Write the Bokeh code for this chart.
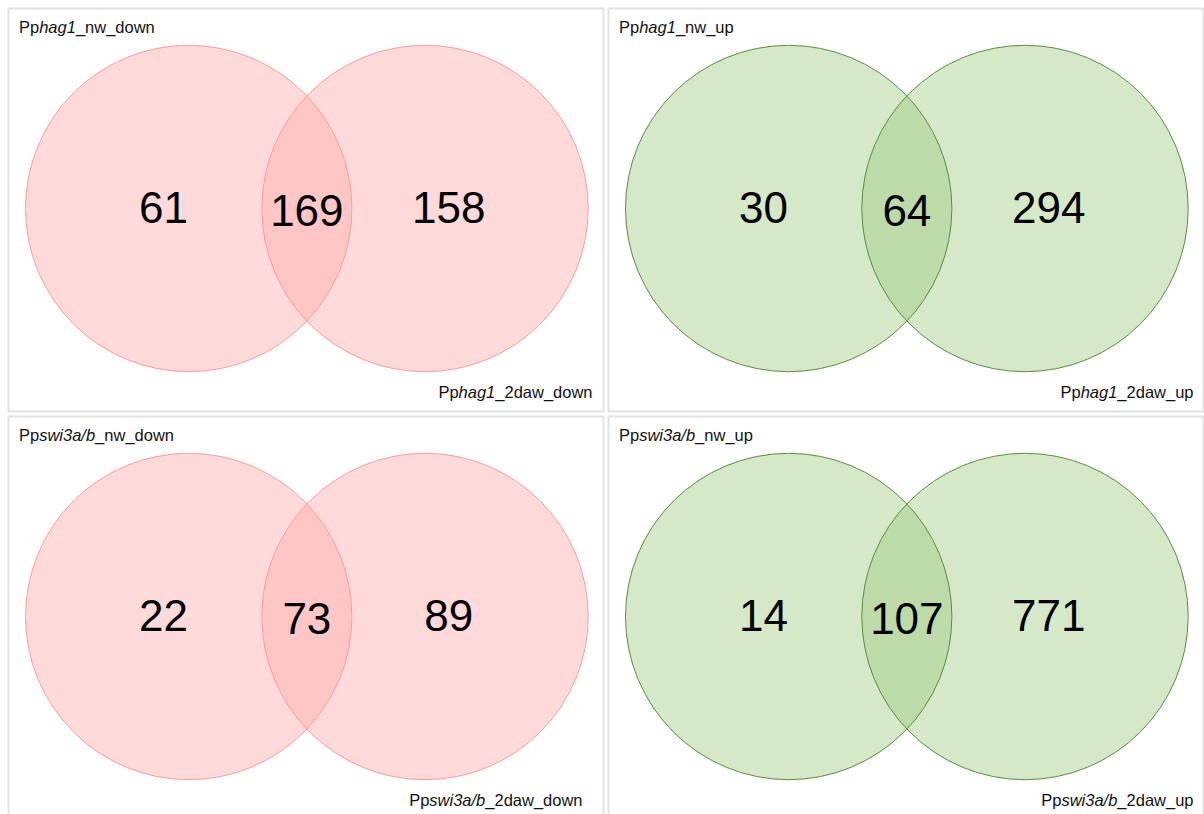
import numpy as np
from bokeh.plotting import figure
from bokeh.models import Range1d, ColumnDataSource
from bokeh.core.properties import value
from bokeh.embed import file_html
from bokeh.resources import INLINE

# ---- data -------------------------------------------------------------
prefixes = ["Pp", "Pp", "Pp", "Pp"]
genes = ["hag1", "hag1", "swi3a/b", "swi3a/b"]
first_sets = ["_nw_down", "_nw_up", "_nw_down", "_nw_up"]
second_sets = ["_2daw_down", "_2daw_up", "_2daw_down", "_2daw_up"]
only_first = [61, 30, 22, 14]
shared = [169, 64, 73, 107]
only_second = [158, 294, 89, 771]
directions = ["down", "up", "down", "up"]

# ---- styling / layout -------------------------------------------------
W, H = 1204, 814
FONT = "Liberation Sans"
styles = {
    "down": dict(fill="#ffdada", lens="#ffc6c6", line="#ff9a9a"),
    "up": dict(fill="#d5e8c8", lens="#bddba8", line="#5b8c3e"),
}
# panel frames (left, top) in pixels
panel_left = [8, 608, 8, 608]
panel_top = [8, 8, 416, 416]
panel_w, panel_h = 595, 403
label_right = [592, 1193, 582, 1193]

R = 163.2            # circle radius
C1_DX = 180.2        # left circle centre, from panel left
SEP = 236.3          # distance between circle centres
CY_DY = 200.0        # circle centre, from panel top

# Liberation Sans advance widths (per 1000 em)
ADV = {"P": 667, "p": 556, "h": 556, "a": 556, "g": 556, "1": 556, "s": 500,
       "w": 722, "i": 222, "3": 556, "/": 278, "b": 556, "_": 556, "n": 556,
       "d": 556, "o": 556, "u": 556, "2": 556}
LABEL_PX = 16.5


def text_width(s, px=LABEL_PX):
    return sum(ADV.get(c, 556) for c in s) * px / 1000.0


p = figure(width=W, height=H, x_range=Range1d(0, W), y_range=Range1d(H, 0),
           output_backend="svg", toolbar_location=None, min_border=0,
           x_axis_location=None, y_axis_location=None)
p.grid.visible = False
p.outline_line_color = None
p.background_fill_color = "white"
p.border_fill_color = "white"

# panel frames
p.quad(left=panel_left, right=[l + panel_w for l in panel_left],
       top=panel_top, bottom=[t + panel_h for t in panel_top],
       fill_color=None, line_color="#e2e2e2", line_width=2)

cx1, cx2, cys, fills, lenses, lines = [], [], [], [], [], []
for i in range(4):
    st = styles[directions[i]]
    cx1.append(panel_left[i] + C1_DX)
    cx2.append(panel_left[i] + C1_DX + SEP)
    cys.append(panel_top[i] + CY_DY)
    fills.append(st["fill"])
    lenses.append(st["lens"])
    lines.append(st["line"])

# circle fills
p.circle(x=cx1 + cx2, y=cys + cys, radius=R, fill_color=fills + fills,
         line_color=None)

# intersection lens
a = np.arccos(SEP / (2 * R))
t1 = np.linspace(-a, a, 80)
t2 = np.linspace(np.pi - a, np.pi + a, 80)
lens_xs, lens_ys = [], []
for i in range(4):
    xs = np.concatenate([cx1[i] + R * np.cos(t1), cx2[i] + R * np.cos(t2)])
    ys = np.concatenate([cys[i] + R * np.sin(t1), cys[i] + R * np.sin(t2)])
    lens_xs.append(list(xs))
    lens_ys.append(list(ys))
p.patches(xs=lens_xs, ys=lens_ys, fill_color=lenses, line_color=None)

# circle outlines
p.circle(x=cx1 + cx2, y=cys + cys, radius=R, fill_color=None,
         line_color=lines + lines, line_width=1)

# counts
num_src = ColumnDataSource(dict(
    x=[c - 0.155 * R for c in cx1] + [(a_ + b_) / 2 for a_, b_ in zip(cx1, cx2)]
      + [c + 0.145 * R for c in cx2],
    y=[c - 1 for c in cys] + [c + 2 for c in cys] + [c - 1 for c in cys],
    t=[str(v) for v in only_first] + [str(v) for v in shared]
      + [str(v) for v in only_second],
))
p.text(x="x", y="y", text="t", source=num_src, text_font=value(FONT),
       text_font_size="44px", text_align="center", text_baseline="middle",
       text_color="black")

# set names: prefix upright, gene name italic, suffix upright
seg_x, seg_y, seg_t, seg_style = [], [], [], []
for i in range(4):
    for parts, x0, y0 in (
        ((prefixes[i], genes[i], first_sets[i]), panel_left[i] + 10.5,
         panel_top[i] + 18.2),
        ((prefixes[i], genes[i], second_sets[i]),
         label_right[i] - text_width(prefixes[i] + genes[i] + second_sets[i]),
         panel_top[i] + 383.2),
    ):
        x = x0
        for k, s in enumerate(parts):
            seg_x.append(x)
            seg_y.append(y0)
            seg_t.append(s)
            seg_style.append("italic" if k == 1 else "normal")
            x += text_width(s)

lab_src = ColumnDataSource(dict(x=seg_x, y=seg_y, t=seg_t, st=seg_style))
p.text(x="x", y="y", text="t", source=lab_src, text_font=value(FONT),
       text_font_size=f"{LABEL_PX}px", text_font_style="st",
       text_align="left", text_baseline="alphabetic", text_color="#111111")

open("out.html", "w").write(file_html(p, INLINE))
